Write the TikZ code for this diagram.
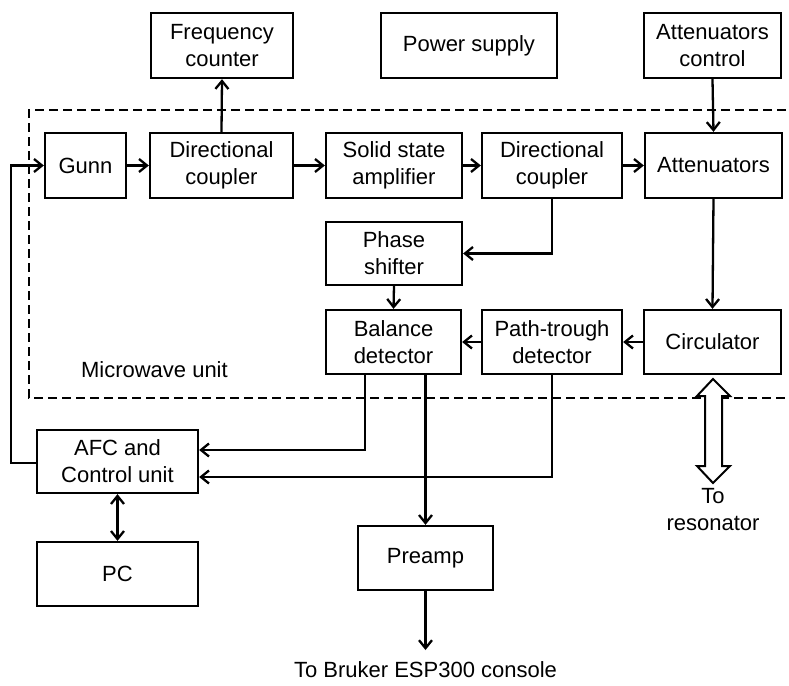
\documentclass[tikz,border=0pt]{standalone}
\usepackage{fontspec}
\setmainfont{Liberation Sans}
\usetikzlibrary{arrows.meta,calc}

\begin{document}
\begin{tikzpicture}[x=0.5pt,y=-0.5pt,
    font=\fontsize{11}{13.5}\selectfont,
    blk/.style={draw, line width=1.15pt, align=center, inner sep=0pt, minimum height=32.5pt},
    conn/.style={line width=1.15pt, -{Straight Barb[length=4pt,width=6.5pt,line width=1.15pt]}},
    biconn/.style={line width=1.15pt, {Straight Barb[length=4pt,width=6.5pt,line width=1.15pt]}-{Straight Barb[length=4pt,width=6.5pt,line width=1.15pt]}}]
    \useasboundingbox (0,0) rectangle (789,686);

    % Mikrowelleneinheit (gestrichelt)
    \draw[line width=1.05pt, dash pattern=on 4.5pt off 2.5pt] (800,110) -- (29,110) -- (29,398) -- (800,398);
    \node[anchor=west] (mwu) at (74,370) {Microwave unit};

    % obere Reihe
    \node[blk, minimum width=71pt] (fc) at (222,45.5) {Frequency\\counter};
    \node[blk, minimum width=88pt] (psu) at (469,45.5) {Power supply};
    \node[blk, minimum width=68.5pt] (attc) at (712.5,45.5) {Attenuators\\control};

    % Mikrowellenpfad
    \node[blk, minimum width=40.5pt] (gunn) at (85.5,165.5) {Gunn};
    \node[blk, minimum width=71.5pt] (dca) at (221.5,165.5) {Directional\\coupler};
    \node[blk, minimum width=68pt] (ssa) at (394,165.5) {Solid state\\amplifier};
    \node[blk, minimum width=70pt] (dcb) at (552,165.5) {Directional\\coupler};
    \node[blk, minimum width=68.5pt] (att) at (713.5,165.5) {Attenuators};

    \node[blk, minimum width=68pt, minimum height=31.5pt] (phs) at (394,253.5) {Phase\\shifter};
    \node[blk, minimum width=67.5pt, minimum height=32pt] (bal) at (393.5,342) {Balance\\detector};
    \node[blk, minimum width=70pt, minimum height=32pt] (ptd) at (552,342) {Path-trough\\detector};
    \node[blk, minimum width=68.5pt, minimum height=32pt] (circ) at (712.5,342) {Circulator};

    % Steuerung
    \node[blk, minimum width=80.5pt, minimum height=31.5pt] (afc) at (117.5,461.5) {AFC and\\Control unit};
    \node[blk, minimum width=80.5pt, minimum height=32pt] (pc) at (117.5,574) {PC};
    \node[blk, minimum width=67.5pt, minimum height=32pt] (pre) at (425.5,558) {Preamp};

    \node (res) at (713,510) [align=center] {To\\resonator};
    \node (esp) at (425.5,670) {To Bruker ESP300 console};
    \coordinate (espin) at (425.5,650);

    % Verbindungen
    \draw[conn] (gunn) -- (dca);
    \draw[conn] (dca) -- (ssa);
    \draw[conn] (ssa) -- (dcb);
    \draw[conn] (dcb) -- (att);
    \draw[conn] (dca.north) -- (fc.south);
    \draw[conn] (attc.south) -- (att.north);
    \draw[conn] (att.south) -- (circ.north);
    \draw[conn] (circ) -- (ptd);
    \draw[conn] (ptd) -- (bal);
    \draw[conn] (dcb.south) |- (phs.east);
    \draw[conn] (phs.south) -- (bal.north);
    \draw[conn] ($(bal.south)+(-28.5,0)$) |- ($(afc.east)+(0,-11.5)$);
    \draw[conn] (ptd.south) |- ($(afc.east)+(0,15.5)$);
    \draw[conn] ($(bal.south)+(32,0)$) -- (pre.north);
    \draw[conn] (pre.south) -- (espin);
    \draw[conn] ($(afc.west)+(0,1.5)$) -- ++(-25,0) |- (gunn.west);
    \draw[biconn] (afc.south) -- (pc.north);

    % Hohlpfeil zum Resonator
    \draw[line width=1pt, fill=white] (713,379) -- (730,396) -- (722,396) -- (722,466) -- (730,466)
        -- (713,483) -- (697,466) -- (705,466) -- (705,396) -- (697,396) -- cycle;
\end{tikzpicture}
\end{document}
